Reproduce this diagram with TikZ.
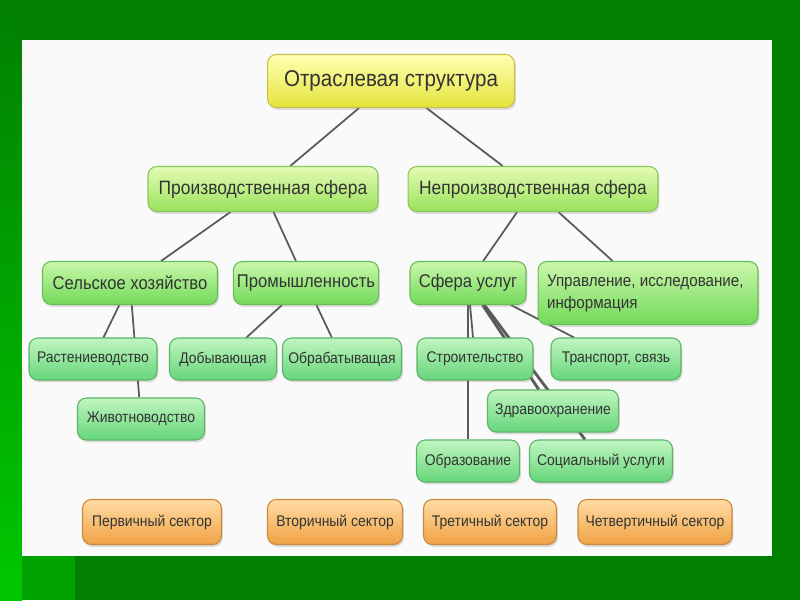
\documentclass[tikz,border=0pt]{standalone}
\usepackage{fontspec}
\setmainfont{Liberation Sans}[FakeStretch=0.9]
\usepackage{xcolor}
\usetikzlibrary{shadows}
\definecolor{bgdark}{HTML}{017F01}
\definecolor{bgmid}{HTML}{00A300}
\definecolor{bglight}{HTML}{00C800}
\definecolor{panel}{HTML}{FAFAFA}
\definecolor{txt}{HTML}{333333}
\definecolor{edge}{HTML}{5A5A5A}
\pgfdeclarelayer{bg}
\pgfdeclarelayer{edges}
\pgfsetlayers{bg,edges,main}
\tikzset{
	box/.style={rounded corners=5pt, line width=0.6pt, text=txt, inner sep=2pt,
		drop shadow={opacity=0.25, shadow xshift=0.8pt, shadow yshift=-1.3pt}},
	yellowbox/.style={box, draw=yellowrim, top color=yellowtop, bottom color=yellowbot,
		minimum height=1.06cm, font=\fontsize{13}{15}\selectfont},
	sferabox/.style={box, draw=lvtworim, top color=lvtwotop, bottom color=lvtwobot,
		minimum height=0.9cm, font=\fontsize{11}{13}\selectfont},
	branchbox/.style={box, draw=lvthreerim, top color=lvthreetop, bottom color=lvthreebot,
		minimum height=0.86cm, font=\fontsize{10.5}{13}\selectfont},
	leafbox/.style={box, draw=leafrim, top color=leaftop, bottom color=leafbot,
		minimum height=0.84cm, font=\fontsize{8.8}{11}\selectfont},
	sectorbox/.style={box, draw=orangerim, top color=orangetop, bottom color=orangebot,
		minimum height=0.9cm, font=\fontsize{8.8}{11}\selectfont},
	link/.style={draw=edge, line width=1pt}
}
\definecolor{yellowtop}{HTML}{FFFFB4}
\definecolor{yellowbot}{HTML}{E4E43A}
\definecolor{yellowrim}{HTML}{C8C04A}
\definecolor{lvtwotop}{HTML}{E4FBB4}
\definecolor{lvtwobot}{HTML}{9AE25C}
\definecolor{lvtworim}{HTML}{8CC65E}
\definecolor{lvthreetop}{HTML}{CAF7AA}
\definecolor{lvthreebot}{HTML}{72DA5A}
\definecolor{lvthreerim}{HTML}{68BC58}
\definecolor{leaftop}{HTML}{C0F5C0}
\definecolor{leafbot}{HTML}{66D67A}
\definecolor{leafrim}{HTML}{5CB46A}
\definecolor{orangetop}{HTML}{FFDCA4}
\definecolor{orangebot}{HTML}{F0A244}
\definecolor{orangerim}{HTML}{C88A3C}
\begin{document}
\begin{tikzpicture}[x=0.02cm, y=-0.02cm]
			\begin{pgfonlayer}{bg}
				\fill[bgdark] (0,0) rectangle (800,600);
				\fill[top color=bgdark, bottom color=bglight] (0,0) rectangle (22,600);
				\fill[bgmid] (22,556) rectangle (75,600);
				\fill[panel] (22,40) rectangle (772,556);
			\end{pgfonlayer}
			\useasboundingbox (0,0) rectangle (800,600);
				\node [yellowbox, minimum width=4.94cm] (otrasl) at (391,81) {Отраслевая структура};
				\node [sferabox, minimum width=4.6cm] (proizv) at (263,189) {Производственная сфера};
				\node [sferabox, minimum width=5cm] (neproizv) at (533,189) {Непроизводственная сфера};
				\node [branchbox, minimum width=3.5cm] (selhoz) at (130,283) {Сельское хозяйство};
				\node [branchbox, minimum width=2.88cm] (prom) at (306,283) {Промышленность};
				\node [branchbox, minimum width=2.32cm] (uslugi) at (468,283) {Сфера услуг};
				\node [branchbox, minimum width=4.4cm, minimum height=1.26cm, align=flush left, text width=4.04cm,
					font=\fontsize{9.6}{12.5}\selectfont] (upravl) at (648,293) {Управление, исследование,\\информация};
				\node [leafbox, minimum width=2.56cm] (rast) at (93,359) {Растениеводство};
				\node [leafbox, minimum width=2.54cm] (zhiv) at (141,419) {Животноводство};
				\node [leafbox, minimum width=2.14cm] (dobyv) at (223,359) {Добывающая};
				\node [leafbox, minimum width=2.38cm] (obrab) at (342,359) {Обрабатыващая};
				\node [leafbox, minimum width=2.32cm] (stroit) at (475,359) {Строительство};
				\node [leafbox, minimum width=2.6cm] (transp) at (616,359) {Транспорт, связь};
				\node [leafbox, minimum width=2.62cm] (zdrav) at (553,411) {Здравоохранение};
				\node [leafbox, minimum width=2.06cm] (obraz) at (468,461) {Образование};
				\node [leafbox, minimum width=2.86cm] (social) at (601,461) {Социальный услуги};
				\node [sectorbox, minimum width=2.78cm] (perv) at (152,522) {Первичный сектор};
				\node [sectorbox, minimum width=2.7cm] (vtor) at (335,522) {Вторичный сектор};
				\node [sectorbox, minimum width=2.66cm] (tret) at (490,522) {Третичный сектор};
				\node [sectorbox, minimum width=3.08cm] (chetv) at (655,522) {Четвертичный сектор};
			\begin{pgfonlayer}{edges}
				\draw [link] (otrasl) -- (proizv);
				\draw [link] (otrasl) -- (neproizv);
				\draw [link] (proizv) -- (selhoz);
				\draw [link] (proizv) -- (prom);
				\draw [link] (neproizv) -- (uslugi);
				\draw [link] (neproizv) -- (upravl);
				\draw [link] (selhoz) -- (rast);
				\draw [link] (selhoz) -- (zhiv);
				\draw [link] (prom) -- (dobyv);
				\draw [link] (prom) -- (obrab);
				\draw [link] (uslugi) -- (stroit);
				\draw [link] (uslugi) -- (obraz);
				\draw [link, line width=1.6pt] (uslugi) -- (zdrav);
				\draw [link, line width=1.6pt] (uslugi) -- (social);
				\draw [link] (uslugi) -- (transp);
			\end{pgfonlayer}
\end{tikzpicture}
\end{document}
